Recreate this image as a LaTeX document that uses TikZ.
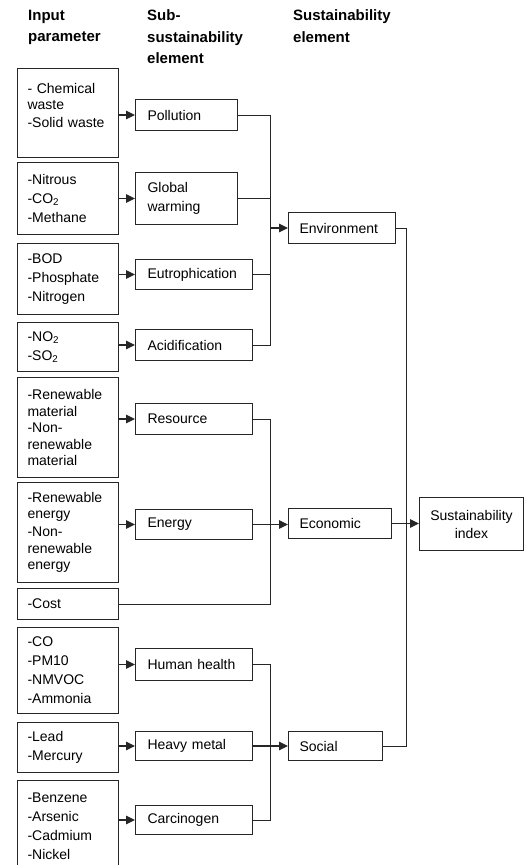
\documentclass[tikz,border=0pt]{standalone}
\usepackage{fontspec}
\setmainfont{Liberation Sans}
\usetikzlibrary{arrows.meta}
\begin{document}
\begin{tikzpicture}[x=1pt,y=-1pt,
  box/.style={draw=black!85, line width=1pt, anchor=north west, align=left,
    font=\fontsize{14}{16.5}\selectfont, inner ysep=0pt},
  inbox/.style={box, inner xsep=10pt, text width=81pt},
  subbox/.style={box, inner xsep=12pt, text width=#1},
  elbox/.style={box, inner xsep=11pt, text width=#1},
  hdr/.style={anchor=north west, inner sep=0pt, align=left,
    font=\fontsize{15}{21.5}\selectfont\bfseries},
  conn/.style={draw=black!85, line width=0.9pt},
  arr/.style={conn, line width=1.1pt, -{Triangle[length=9pt,width=8.5pt]}}]
\useasboundingbox (0,0) rectangle (524,865);
\clip (0,0) rectangle (524,865);
% headers
\node[hdr] (h1) at (28,9.5) {Input\\parameter};
\node[hdr] (h2) at (147,9.5) {Sub-\\sustainability\\element};
\node[hdr] (h3) at (293,9.5) {Sustainability\\element};
% input boxes
\node[inbox, minimum height=89pt] (i1) at (17,68) {- Chemical\\waste\\[1pt]-Solid waste\\[-1pt]\mbox{}};
\node[inbox, minimum height=72pt] (i2) at (17,162) {-Nitrous\\[2.5pt]-CO\textsubscript{2}\\[2.5pt]-Methane};
\node[inbox, minimum height=71pt] (i3) at (17,243) {-BOD\\[2.5pt]-Phosphate\\[2.5pt]-Nitrogen};
\node[inbox, minimum height=49pt] (i4) at (17,322) {-NO\textsubscript{2}\\[2.5pt]-SO\textsubscript{2}};
\node[inbox, minimum height=100pt] (i5) at (17,377) {-Renewable\\material\\-Non-\\renewable\\material};
\node[inbox, minimum height=100pt] (i6) at (17,482) {-Renewable\\energy\\[1.5pt]-Non-\\renewable\\energy};
\node[inbox, minimum height=31pt] (i7) at (17,588) {-Cost};
\node[inbox, minimum height=86pt] (i8) at (17,627) {-CO\\[2.5pt]-PM10\\[2.5pt]-NMVOC\\[2.5pt]-Ammonia};
\node[inbox, minimum height=50pt] (i9) at (17,722) {-Lead\\[2.5pt]-Mercury};
\node[inbox, minimum height=92pt] (i10) at (17,780) {-Benzene\\[2.5pt]-Arsenic\\[2.5pt]-Cadmium\\[2.5pt]-Nickel};
% sub-sustainability boxes
\node[subbox=78pt, minimum height=31pt] (p1) at (135,99) {Pollution};
\node[subbox=78pt, minimum height=52pt] (p2) at (135,172) {Global\\[2.5pt]warming};
\node[subbox=93pt, minimum height=30pt] (p3) at (135,259) {Eutrophication};
\node[subbox=93pt, minimum height=31pt] (p4) at (135,329) {Acidification};
\node[subbox=93pt, minimum height=31pt] (r1) at (135,403) {Resource};
\node[subbox=93pt, minimum height=30pt] (r2) at (135,509) {Energy};
\node[subbox=93pt, minimum height=32pt] (s1) at (135,648) {Human health};
\node[subbox=93pt, minimum height=29pt] (s2) at (135,731) {Heavy metal};
\node[subbox=93pt, minimum height=29pt] (s3) at (135,805) {Carcinogen};
% sustainability elements
\node[elbox=85pt, minimum height=31pt] (env) at (288,212) {Environment};
\node[elbox=81pt, minimum height=30pt] (eco) at (288,508) {Economic};
\node[elbox=72pt, minimum height=29pt] (soc) at (288,731) {Social};
\node[box, align=center, inner xsep=4pt, text width=96pt, minimum height=53pt,
  font=\fontsize{14}{18}\selectfont] (si) at (419,497) {Sustainability\\index};
% bus coordinates
\coordinate (bx) at (270,0);
\coordinate (rx) at (406,0);
% input -> sub arrows
\foreach \a/\b in {i1/p1,i2/p2,i3/p3,i4/p4,i5/r1,i6/r2,i8/s1,i9/s2,i10/s3}
  \draw[arr] (\b.west -| \a.east) -- (\b.west);
% environment bus
\draw[conn] (p1.east) -- (p1.east -| bx) -- (p4.east -| bx) -- (p4.east);
\draw[conn] (p2.east) -- (p2.east -| bx);
\draw[conn] (p3.east) -- (p3.east -| bx);
\draw[arr] (env.west -| bx) -- (env.west);
% economic bus
\draw[conn] (r1.east) -- (r1.east -| bx) -- (i7.east -| bx) -- (i7.east);
\draw[arr] (r2.east) -- (r2.east -| eco.west);
% social bus
\draw[conn] (s1.east) -- (s1.east -| bx) -- (s3.east -| bx) -- (s3.east);
\draw[arr] (s2.east) -- (s2.east -| soc.west);
% to sustainability index
\draw[conn] (env.east) -- (env.east -| rx) -- (soc.east -| rx) -- (soc.east);
\draw[arr] (eco.east) -- (eco.east -| si.west);
\end{tikzpicture}
\end{document}
